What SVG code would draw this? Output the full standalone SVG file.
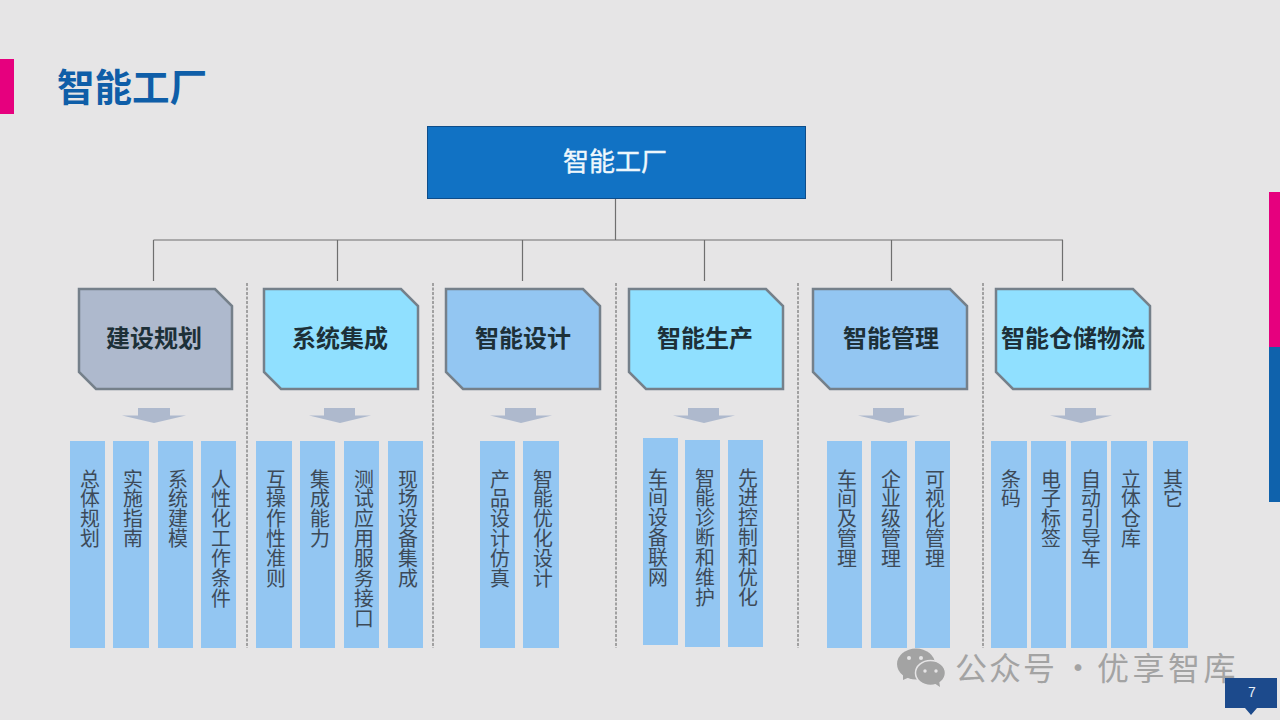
<svg xmlns="http://www.w3.org/2000/svg" width="1280" height="720" viewBox="0 0 1280 720">
<style>
text{font-family:"Noto Sans CJK SC","Liberation Sans",sans-serif}
.h{fill:#1d3038;font-size:24px;font-weight:700;text-anchor:middle}
.n{stroke:#75808a;stroke-width:2.5}
.a{fill:#aeb9cd}
.c{fill:#93c6f2}
.v{fill:#3d4a58;font-size:19.9px;writing-mode:vertical-rl}
.w{fill:#a3a3a3;font-size:32px}
.d{stroke:#5c5c5c;stroke-width:1;stroke-dasharray:3 1.5;fill:none}
</style>
<rect width="1280" height="720" fill="#e6e5e6"/>
<rect id="accent-left" x="0" y="59" width="14" height="55" fill="#e6007e"/>
<rect id="accent-right-top" x="1269" y="192" width="11" height="155" fill="#e6007e"/>
<rect id="accent-right-bottom" x="1269" y="347" width="11" height="155" fill="#0f62ac"/>
<text id="title" x="57" y="101" font-size="37.5" font-weight="700" fill="#0f5ea8">智能工厂</text>
<g id="connectors" fill="none" stroke="#6f6f6f" stroke-width="1.2">
<path d="M615.500 198V240M153.500 240H1063M153.500 240V281M337.500 240V281M522.500 240V281M704.500 240V281M891.500 240V281M1062.500 240V281"/>
</g>
<g id="dividers">
<path class="d" d="M247 283V648M433 283V648M616 283V648M798 283V648M983 283V648"/>
</g>
<g id="root"><rect x="427.500" y="126.500" width="378" height="72" fill="#1172c4" stroke="#0e4d8a"/><text x="615" y="171" font-size="26" fill="#eef7fc" stroke="#eef7fc" stroke-width="0.4" text-anchor="middle">智能工厂</text></g>
<g id="n1"><path class="n" fill="#aeb9cd" d="M79 289H215L232 306V389H96L79 372Z"/><text class="h" x="154" y="347">建设规划</text></g>
<g id="n2"><path class="n" fill="#90e0ff" d="M264 289H401L418 306V389H281L264 372Z"/><text class="h" x="340" y="347">系统集成</text></g>
<g id="n3"><path class="n" fill="#93c6f2" d="M446 289H583L600 306V389H463L446 372Z"/><text class="h" x="523" y="347">智能设计</text></g>
<g id="n4"><path class="n" fill="#90e0ff" d="M629 289H766L783 306V389H646L629 372Z"/><text class="h" x="705" y="347">智能生产</text></g>
<g id="n5"><path class="n" fill="#93c6f2" d="M813 289H950L967 306V389H830L813 372Z"/><text class="h" x="891" y="347">智能管理</text></g>
<g id="n6"><path class="n" fill="#90e0ff" d="M996 289H1133L1150 306V389H1013L996 372Z"/><text class="h" x="1073" y="347">智能仓储物流</text></g>
<g id="arrows">
<path class="a" d="M138 408H170V415.500L186 415.500L154 423L122 415.500H138Z"/>
<path class="a" d="M324 408H355V415.500L371 415.500L340 423L309 415.500H324Z"/>
<path class="a" d="M505 408H536V415.500L552 415.500L521 423L490 415.500H505Z"/>
<path class="a" d="M688 408H719V415.500L735 415.500L704 423L673 415.500H688Z"/>
<path class="a" d="M873 408H904V415.500L920 415.500L889 423L858 415.500H873Z"/>
<path class="a" d="M1065 408H1096V415.500L1112 415.500L1081 423L1050 415.500H1065Z"/>
</g>
<g id="c1"><rect class="c" x="70" y="441" width="35" height="207"/><text class="v" x="90" y="469">总体规划</text></g>
<g id="c2"><rect class="c" x="113" y="441" width="36" height="207"/><text class="v" x="133" y="469">实施指南</text></g>
<g id="c3"><rect class="c" x="158" y="441" width="35" height="207"/><text class="v" x="178" y="469">系统建模</text></g>
<g id="c4"><rect class="c" x="201" y="441" width="35" height="207"/><text class="v" x="221" y="469">人性化工作条件</text></g>
<g id="c5"><rect class="c" x="256" y="441" width="36" height="207"/><text class="v" x="276" y="469">互操作性准则</text></g>
<g id="c6"><rect class="c" x="300" y="441" width="35" height="207"/><text class="v" x="320" y="469">集成能力</text></g>
<g id="c7"><rect class="c" x="344" y="441" width="35" height="207"/><text class="v" x="364" y="469">测试应用服务接口</text></g>
<g id="c8"><rect class="c" x="388" y="441" width="35" height="207"/><text class="v" x="408" y="469">现场设备集成</text></g>
<g id="c9"><rect class="c" x="480" y="441" width="35" height="207"/><text class="v" x="500" y="469">产品设计仿真</text></g>
<g id="c10"><rect class="c" x="523" y="441" width="36" height="207"/><text class="v" x="543" y="469">智能优化设计</text></g>
<g id="c11"><rect class="c" x="643" y="438" width="35" height="207"/><text class="v" x="658" y="468">车间设备联网</text></g>
<g id="c12"><rect class="c" x="685" y="440" width="35" height="207"/><text class="v" x="705" y="468">智能诊断和维护</text></g>
<g id="c13"><rect class="c" x="728" y="440" width="35" height="207"/><text class="v" x="748" y="468">先进控制和优化</text></g>
<g id="c14"><rect class="c" x="827" y="441" width="35" height="207"/><text class="v" x="847" y="469">车间及管理</text></g>
<g id="c15"><rect class="c" x="871" y="441" width="36" height="207"/><text class="v" x="891" y="469">企业级管理</text></g>
<g id="c16"><rect class="c" x="915" y="441" width="35" height="207"/><text class="v" x="935" y="469">可视化管理</text></g>
<g id="c17"><rect class="c" x="991" y="441" width="36" height="207"/><text class="v" x="1011" y="469">条码</text></g>
<g id="c18"><rect class="c" x="1031" y="441" width="35" height="207"/><text class="v" x="1051" y="469">电子标签</text></g>
<g id="c19"><rect class="c" x="1071" y="441" width="36" height="207"/><text class="v" x="1091" y="469">自动引导车</text></g>
<g id="c20"><rect class="c" x="1111" y="441" width="36" height="207"/><text class="v" x="1131" y="469">立体仓库</text></g>
<g id="c21"><rect class="c" x="1153" y="441" width="35" height="207"/><text class="v" x="1173" y="469">其它</text></g>
<g id="watermark">
<ellipse cx="916" cy="664" rx="19" ry="15.500" fill="#a3a3a3"/>
<path d="M903 673L903 680L912 676Z" fill="#a3a3a3"/>
<ellipse cx="930.500" cy="673" rx="15" ry="12.500" fill="#a3a3a3" stroke="#e6e5e6" stroke-width="1.500"/>
<path d="M934 683L940 687L939 680Z" fill="#a3a3a3"/>
<circle cx="909" cy="658" r="2" fill="#e6e5e6"/><circle cx="921" cy="658" r="2" fill="#e6e5e6"/>
<circle cx="925" cy="671" r="1.700" fill="#e6e5e6"/><circle cx="936" cy="671" r="1.700" fill="#e6e5e6"/>
<text class="w" x="955" y="680" letter-spacing="2">公众号</text>
<text class="w" x="1062" y="680">·</text>
<text class="w" x="1097" y="680" letter-spacing="3.500">优享智库</text>
</g>
<g id="page"><path d="M1225 678H1277V708H1257L1251 715L1245 708H1225Z" fill="#1c4a8c"/><text x="1252" y="697" font-size="14" fill="#e8f0f8" text-anchor="middle" style="font-family:'Liberation Sans',sans-serif">7</text></g>
</svg>
